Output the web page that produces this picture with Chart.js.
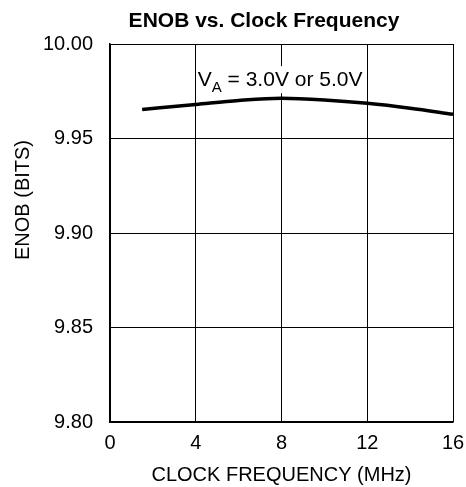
<!DOCTYPE html>
<html>
<head>
<meta charset="utf-8">
<script src="https://cdn.jsdelivr.net/npm/chart.js@4/dist/chart.umd.min.js"></script>
<style>
  html, body { margin: 0; padding: 0; background: #fff; }
  #chart { display: block; }
</style>
</head>
<body>
<canvas id="chart" width="466" height="487"></canvas>
<script>
// values
const clockMHz = [1.5, 4, 6, 8, 10, 12, 14, 16];
const enobBits = [9.9654, 9.9680, 9.9701, 9.9713, 9.9704, 9.9686, 9.9660, 9.9628];
const xTicks = [0, 4, 8, 12, 16];
const yTicks = [9.80, 9.85, 9.90, 9.95, 10.00];

const FONT = '"Liberation Sans", Arial, sans-serif';

const points = clockMHz.map((x, i) => ({ x: x, y: enobBits[i] }));

// title, rotated y title and the V_A label are drawn by hand
const textPlugin = {
    id: 'textPlugin',
    afterDraw(chart) {
        const ctx = chart.ctx;
        const xs = chart.scales.x;
        const ys = chart.scales.y;
        ctx.save();
        ctx.fillStyle = '#000';

        // chart title
        ctx.font = 'bold 21px ' + FONT;
        ctx.textAlign = 'center';
        ctx.textBaseline = 'middle';
        ctx.fillText('ENOB vs. Clock Frequency', 264, 21);

        // y axis title
        ctx.save();
        ctx.translate(23, 200);
        ctx.rotate(-Math.PI / 2);
        ctx.font = '20px ' + FONT;
        ctx.fillText('ENOB (BITS)', 0, 0);
        ctx.restore();

        // V_A label with white box behind it
        const x0 = xs.getPixelForValue(4) + 2;
        const base = ys.getPixelForValue(9.9777);
        ctx.font = '21px ' + FONT;
        const wV = ctx.measureText('V').width;
        ctx.font = '15px ' + FONT;
        const wA = ctx.measureText('A').width;
        ctx.font = '21px ' + FONT;
        const rest = ' = 3.0V or 5.0V';
        const wRest = ctx.measureText(rest).width;
        ctx.fillStyle = '#fff';
        ctx.fillRect(x0 + 1, base - 20, wV + wA + wRest, 27);
        ctx.fillStyle = '#000';
        ctx.textAlign = 'left';
        ctx.textBaseline = 'alphabetic';
        ctx.fillText('V', x0, base);
        ctx.font = '15px ' + FONT;
        ctx.fillText('A', x0 + wV, base + 6);
        ctx.font = '21px ' + FONT;
        ctx.fillText(rest, x0 + wV + wA, base);
        ctx.restore();
    }
};

new Chart(document.getElementById('chart').getContext('2d'), {
    type: 'line',
    data: {
        datasets: [{
            data: points,
            borderColor: '#000',
            borderWidth: 3.5,
            pointRadius: 0,
            fill: false,
            cubicInterpolationMode: 'monotone'
        }]
    },
    options: {
        responsive: false,
        animation: false,
        events: [],
        layout: { padding: { top: 44, right: 13, left: 0, bottom: 0 } },
        plugins: {
            legend: { display: false },
            tooltip: { enabled: false }
        },
        scales: {
            x: {
                type: 'linear',
                min: 0,
                max: 16,
                afterFit: (s) => { s.height = 65; s.paddingLeft = 0; s.paddingRight = 0; },
                afterBuildTicks: (s) => { s.ticks = xTicks.map(v => ({ value: v })); },
                grid: { color: '#000', lineWidth: 1, drawTicks: false },
                border: { color: '#000', width: 1.5 },
                ticks: {
                    color: '#000',
                    padding: 9,
                    maxRotation: 0,
                    font: { family: FONT, size: 20 }
                },
                title: {
                    display: true,
                    text: 'CLOCK FREQUENCY (MHz)',
                    color: '#000',
                    padding: { top: 0, bottom: 0 },
                    font: { family: FONT, size: 20 }
                }
            },
            y: {
                type: 'linear',
                min: 9.80,
                max: 10.00,
                afterFit: (s) => { s.width = 110; s.paddingTop = 0; s.paddingBottom = 0; },
                afterBuildTicks: (s) => { s.ticks = yTicks.map(v => ({ value: v })); },
                grid: { color: '#000', lineWidth: 1, drawTicks: false },
                border: { color: '#000', width: 1.5 },
                ticks: {
                    color: '#000',
                    padding: 17,
                    font: { family: FONT, size: 20 },
                    callback: (v) => Number(v).toFixed(2)
                }
            }
        }
    },
    plugins: [textPlugin]
});
</script>
</body>
</html>
